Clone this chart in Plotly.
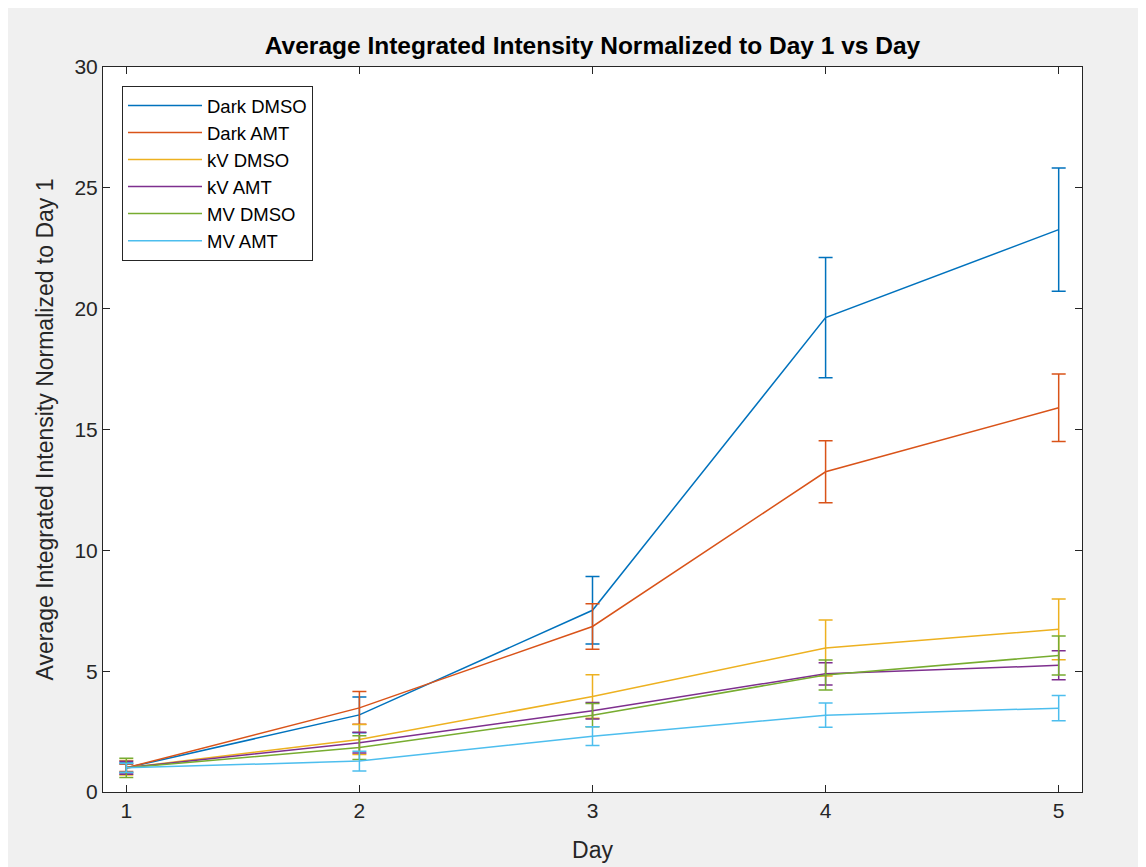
import plotly.graph_objects as go

days = [1, 2, 3, 4, 5]
series_names = ["Dark DMSO", "Dark AMT", "kV DMSO", "kV AMT", "MV DMSO", "MV AMT"]
colors = ["#0072BD", "#D95319", "#EDB120", "#7E2F8E", "#77AC30", "#4DBEEE"]

dark_dmso = [1.0, 3.19, 7.52, 19.63, 23.27]
dark_dmso_err = [0.20, 0.74, 1.40, 2.49, 2.55]
dark_amt = [1.0, 3.48, 6.85, 13.25, 15.90]
dark_amt_err = [0.15, 0.68, 0.94, 1.28, 1.40]
kv_dmso = [1.0, 2.17, 3.95, 5.96, 6.73]
kv_dmso_err = [0.30, 0.62, 0.90, 1.16, 1.26]
kv_amt = [1.0, 2.04, 3.36, 4.89, 5.24]
kv_amt_err = [0.27, 0.43, 0.34, 0.46, 0.60]
mv_dmso = [1.0, 1.84, 3.18, 4.84, 5.65]
mv_dmso_err = [0.40, 0.49, 0.48, 0.62, 0.81]
mv_amt = [1.0, 1.28, 2.31, 3.18, 3.47]
mv_amt_err = [0.18, 0.41, 0.39, 0.50, 0.52]

values = [dark_dmso, dark_amt, kv_dmso, kv_amt, mv_dmso, mv_amt]
errors = [dark_dmso_err, dark_amt_err, kv_dmso_err, kv_amt_err, mv_dmso_err, mv_amt_err]

x_ticks = [1, 2, 3, 4, 5]
y_ticks = [0, 5, 10, 15, 20, 25, 30]

fig = go.Figure()
for i, (name, col, v, e) in enumerate(zip(series_names, colors, values, errors)):
    fig.add_trace(go.Scatter(
        x=days, y=v, name=name, mode="lines",
        line=dict(color=col, width=1.5),
        error_y=dict(type="data", array=e, visible=True, color=col, thickness=1.5, width=7),
        legendgroup=f"g{i}",
    ))

axis_col = "#262626"
fig.update_layout(
    width=1146, height=867,
    paper_bgcolor="#f0f0f0", plot_bgcolor="white",
    margin=dict(l=95, r=72, t=59, b=83),
    font=dict(family="Liberation Sans, Arial, sans-serif", color=axis_col),
    title=dict(text="<b>Average Integrated Intensity Normalized to Day 1 vs Day</b>",
               x=0.5, xref="paper", xanchor="center", y=1 - 37 / 867, yanchor="middle",
               font=dict(size=24.5, color="#000000")),
    showlegend=True,
    legend=dict(x=0.0194, y=0.974, xanchor="left", yanchor="top",
                bgcolor="white", bordercolor=axis_col, borderwidth=1,
                font=dict(size=18.5, color="#000000"), tracegroupgap=0, itemwidth=74),
    xaxis=dict(range=[0.9, 5.1], tickvals=x_ticks, ticktext=[str(t) for t in x_ticks],
               showgrid=False, zeroline=False, showline=True, linecolor=axis_col, linewidth=1,
               mirror="ticks", ticks="inside", ticklen=7, tickcolor=axis_col,
               tickfont=dict(size=21, color=axis_col),
               title=dict(text="Day", font=dict(size=23, color=axis_col), standoff=20)),
    yaxis=dict(range=[0, 30], tickvals=y_ticks, ticktext=[str(t) for t in y_ticks],
               showgrid=False, zeroline=False, showline=True, linecolor=axis_col, linewidth=1,
               mirror="ticks", ticks="inside", ticklen=7, tickcolor=axis_col,
               tickfont=dict(size=21, color=axis_col),
               title=dict(text="Average Integrated Intensity Normalized to Day 1",
                          font=dict(size=23, color=axis_col), standoff=14)),
)

fig.write_html("out.html")
